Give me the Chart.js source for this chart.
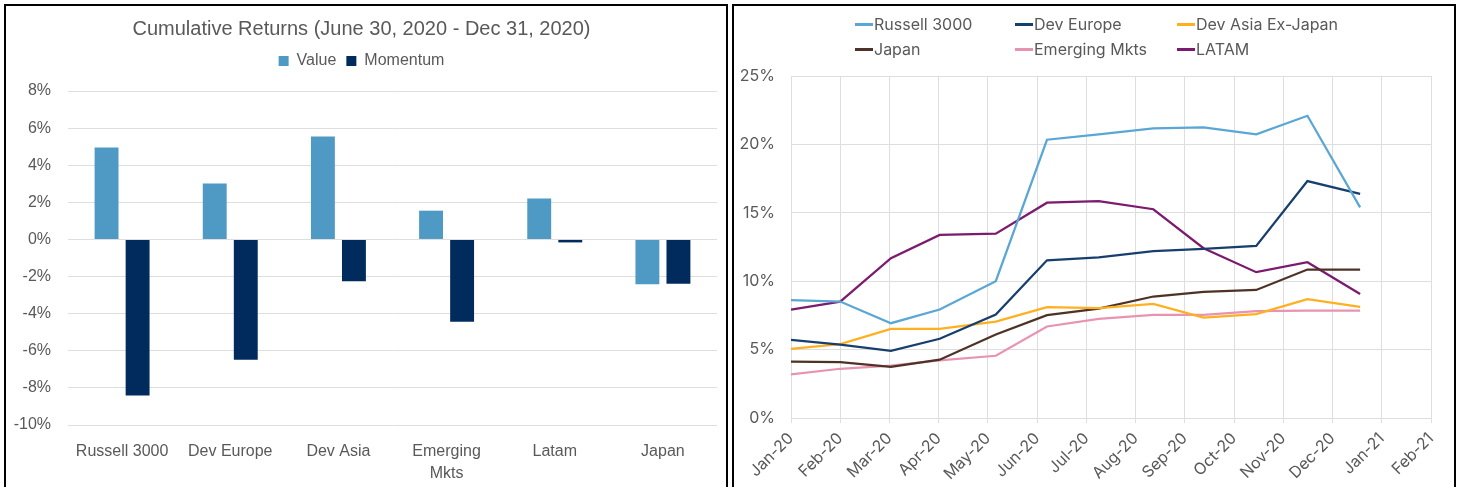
<!DOCTYPE html>
<html lang="en">
<head>
<meta charset="UTF-8">
<title>Value vs Momentum Returns</title>
<script src="https://cdn.jsdelivr.net/npm/chart.js"></script>
<style>
  html, body { margin: 0; padding: 0; background: #fff; width: 1458px; height: 487px; overflow: hidden; }
  .panel { position: absolute; top: 4px; height: 500px; border: 2px solid #000; box-sizing: border-box; }
  #left { left: 4px; width: 724px; }
  #right { left: 732px; width: 724px; }
  .panel canvas { position: absolute; left: 0; top: 0; }
  .lg { position: absolute; font: 16px Inter, sans-serif; color: #595959; line-height: 20px; white-space: nowrap; }
  .lg i { display: inline-block; width: 18px; height: 3px; vertical-align: middle; margin-right: 1px; position: relative; top: -1px; }
</style>
</head>
<body>
<div class="panel" id="left"><canvas id="barChart" width="720" height="481"></canvas></div>
<div class="panel" id="right"><canvas id="lineChart" width="720" height="481"></canvas></div>

<script>
// ---- left: cumulative returns bar chart ----
const regions = ['Russell 3000', 'Dev Europe', 'Dev Asia', ['Emerging', 'Mkts'], 'Latam', 'Japan'];
const valueReturns = [4.96, 3.02, 5.55, 1.55, 2.21, -2.42];
const momentumReturns = [-8.41, -6.49, -2.25, -4.44, -0.16, -2.39];

// ---- right: monthly line chart ----
const tickLabels = ['Jan-20', 'Feb-20', 'Mar-20', 'Apr-20', 'May-20', 'Jun-20', 'Jul-20',
                    'Aug-20', 'Sep-20', 'Oct-20', 'Nov-20', 'Dec-20', 'Jan-21', 'Feb-21'];
// observation dates, in months after Jan-20
const obsMonth = [0, 1, 2.03, 3.02, 4.16, 5.2, 6.25, 7.36, 8.38, 9.45, 10.49, 11.56];
const seriesNames = ['Russell 3000', 'Dev Europe', 'Dev Asia Ex-Japan', 'Japan', 'Emerging Mkts', 'LATAM'];
const russell3000 = [8.61, 8.51, 6.93, 7.93, 10.0, 20.34, 20.73, 21.17, 21.24, 20.73, 22.09, 15.40];
const devEurope   = [5.72, 5.37, 4.91, 5.79, 7.56, 11.53, 11.75, 12.19, 12.36, 12.58, 17.32, 16.39];
const devAsiaExJp = [5.06, 5.40, 6.52, 6.52, 7.05, 8.10, 8.03, 8.34, 7.34, 7.59, 8.69, 8.12];
const japan       = [4.13, 4.09, 3.74, 4.26, 6.10, 7.52, 8.00, 8.88, 9.22, 9.36, 10.85, 10.85];
const emergingMkt = [3.18, 3.60, 3.82, 4.21, 4.55, 6.69, 7.25, 7.54, 7.54, 7.81, 7.85, 7.85];
const latam       = [7.93, 8.51, 11.68, 13.38, 13.47, 15.74, 15.86, 15.26, 12.41, 10.66, 11.39, 9.07];
const lineColors = ['#5aa6d4', '#173f6e', '#ffb020', '#4e3226', '#e993b3', '#7b1a6e'];

const grey = '#595959';
const gridGrey = '#dedede';

// pushes the plot down below the legend
const legendGap = {
  id: 'legendGap',
  beforeInit(chart) {
    const fit = chart.legend.fit;
    chart.legend.fit = function () { fit.call(this); this.height += 12; };
  }
};

new Chart(document.getElementById('barChart'), {
  type: 'bar',
  data: {
    labels: regions,
    datasets: [
      { label: 'Value', data: valueReturns, backgroundColor: '#4e9ac4' },
      { label: 'Momentum', data: momentumReturns, backgroundColor: '#002b5c' }
    ]
  },
  options: {
    responsive: false,
    animation: false,
    layout: { padding: { right: 9 } },
    categoryPercentage: 0.574,
    barPercentage: 0.77,
    plugins: {
      title: {
        display: true,
        text: 'Cumulative Returns (June 30, 2020 - Dec 31, 2020)',
        color: grey,
        font: { family: '"Liberation Sans", Arial, sans-serif', size: 20, weight: 'normal' },
        padding: { top: 11, bottom: 2 }
      },
      legend: {
        labels: {
          color: grey,
          boxWidth: 10,
          boxHeight: 10,
          padding: 10,
          font: { family: '"Liberation Sans", Arial, sans-serif', size: 16 }
        }
      },
      tooltip: { enabled: false }
    },
    scales: {
      x: {
        grid: { display: false },
        border: { display: false },
        ticks: { color: grey, padding: 8, font: { family: '"Liberation Sans", Arial, sans-serif', size: 16, lineHeight: 1.35 } },
        afterFit: s => { s.height = 62; }
      },
      y: {
        min: -10, max: 8,
        ticks: { stepSize: 2, color: grey, padding: 17, callback: v => v + '%',
                 font: { family: '"Liberation Sans", Arial, sans-serif', size: 16 } },
        grid: { color: gridGrey, drawTicks: false },
        border: { display: false },
        afterFit: s => { s.width = 62; }
      }
    }
  },
  plugins: [legendGap]
});

// line chart legend laid out as a 3-column grid
const legendCols = [121, 281, 443];
const legendRows = [8, 33];
seriesNames.forEach((name, i) => {
  const el = document.createElement('div');
  el.className = 'lg';
  el.style.left = legendCols[i % 3] + 'px';
  el.style.top = legendRows[Math.floor(i / 3)] + 'px';
  el.innerHTML = '<i style="background:' + lineColors[i] + '"></i>' + name;
  document.getElementById('right').appendChild(el);
});

const lineSeries = [russell3000, devEurope, devAsiaExJp, japan, emergingMkt, latam];

new Chart(document.getElementById('lineChart'), {
  type: 'line',
  data: {
    datasets: lineSeries.map((vals, i) => ({
      label: seriesNames[i],
      data: vals.map((v, j) => ({ x: obsMonth[j], y: v })),
      borderColor: lineColors[i],
      backgroundColor: lineColors[i],
      borderWidth: 2.25,
      pointRadius: 0,
      tension: 0
    }))
  },
  options: {
    responsive: false,
    animation: false,
    layout: { padding: { top: 70, right: 23 } },
    plugins: { legend: { display: false }, tooltip: { enabled: false } },
    scales: {
      x: {
        type: 'linear',
        min: 0, max: 13,
        ticks: {
          stepSize: 1, autoSkip: false, maxRotation: 45, minRotation: 45,
          color: grey, padding: 6,
          font: { family: 'Inter, sans-serif', size: 16 },
          callback: v => tickLabels[v]
        },
        grid: { color: gridGrey, tickLength: 5 },
        border: { color: gridGrey },
        afterFit: s => { s.height = 69; }
      },
      y: {
        min: 0, max: 25,
        ticks: { stepSize: 5, color: grey, padding: 16, callback: v => v + '%',
                 font: { family: 'Inter, sans-serif', size: 16 } },
        grid: { color: gridGrey, drawTicks: false },
        border: { display: false },
        afterFit: s => { s.width = 57; }
      }
    }
  }
});
</script>
</body>
</html>
